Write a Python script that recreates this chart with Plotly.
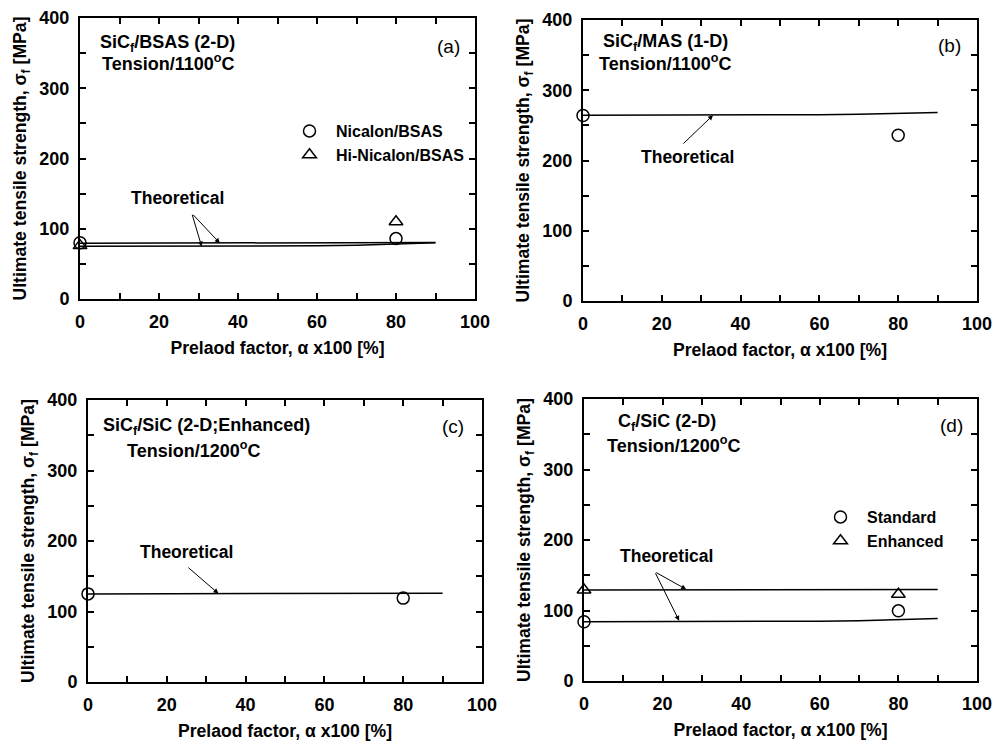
import plotly.graph_objects as go

# ---------------- data ----------------
theory_x = [0, 10, 20, 30, 40, 50, 60, 70, 80, 90]

# (a) SiCf/BSAS (2-D), 1100C
a_theory_upper = [79.5, 79.5, 79.5, 79.5, 79.5, 79.5, 79.6, 79.8, 80.0, 80.3]
a_theory_lower = [75.0, 75.0, 75.0, 75.0, 75.1, 75.3, 75.7, 76.5, 77.8, 80.0]
a_x = [0, 80]
a_nicalon = [80, 86]
a_hinicalon = [76, 110]

# (b) SiCf/MAS (1-D), 1100C
b_theory = [264.5, 264.5, 264.5, 264.5, 264.6, 264.8, 265.1, 265.7, 266.7, 268.3]
b_x = [0, 80]
b_data = [264, 236]

# (c) SiCf/SiC (2-D; Enhanced), 1200C
c_theory = [125.0, 125.0, 125.0, 125.0, 125.0, 125.0, 125.1, 125.3, 125.6, 126.0]
c_x = [0, 80]
c_data = [125, 119]

# (d) Cf/SiC (2-D), 1200C
d_theory_upper = [129.0, 129.0, 129.0, 129.0, 129.0, 129.1, 129.2, 129.4, 129.6, 129.8]
d_theory_lower = [84.0, 84.0, 84.0, 84.0, 84.1, 84.3, 84.8, 85.6, 86.8, 88.5]
d_x = [0, 80]
d_standard = [84, 99.5]
d_enhanced = [129, 123]

x_ticks = [0, 20, 40, 60, 80, 100]
y_ticks = [0, 100, 200, 300, 400]

# ---------------- figure ----------------
W, H = 994, 742
FONT = "Liberation Sans"

def px_dom(x0, x1):
    return [x0 / W, x1 / W]

def py_dom(top, bottom):
    return [1 - bottom / H, 1 - top / H]

domains = {
    1: (px_dom(80, 475), py_dom(18, 299)),
    2: (px_dom(583, 977), py_dom(20, 301)),
    3: (px_dom(88, 482), py_dom(400, 682)),
    4: (px_dom(584, 977), py_dom(399, 681)),
}

fig = go.Figure()

def line_trace(ax_i, y):
    xa = "x" if ax_i == 1 else f"x{ax_i}"
    ya = "y" if ax_i == 1 else f"y{ax_i}"
    return go.Scatter(x=theory_x, y=y, mode="lines", xaxis=xa, yaxis=ya,
                      line=dict(color="black", width=1.5), showlegend=False,
                      hoverinfo="skip")

def pt_trace(ax_i, x, y, symbol, name, legend=None):
    xa = "x" if ax_i == 1 else f"x{ax_i}"
    ya = "y" if ax_i == 1 else f"y{ax_i}"
    kw = {}
    if legend:
        kw["legend"] = legend
    return go.Scatter(x=x, y=y, mode="markers", xaxis=xa, yaxis=ya, name=name,
                      marker=dict(symbol=symbol, size=12, color="black",
                                  line=dict(color="black", width=1.5)),
                      cliponaxis=False, showlegend=legend is not None, **kw)

fig.add_trace(line_trace(1, a_theory_upper))
fig.add_trace(line_trace(1, a_theory_lower))
fig.add_trace(pt_trace(1, a_x, a_nicalon, "circle-open", "Nicalon/BSAS", "legend"))
fig.add_trace(pt_trace(1, a_x, a_hinicalon, "triangle-up-open", "Hi-Nicalon/BSAS", "legend"))

fig.add_trace(line_trace(2, b_theory))
fig.add_trace(pt_trace(2, b_x, b_data, "circle-open", "SiCf/MAS"))

fig.add_trace(line_trace(3, c_theory))
fig.add_trace(pt_trace(3, c_x, c_data, "circle-open", "SiCf/SiC"))

fig.add_trace(line_trace(4, d_theory_upper))
fig.add_trace(line_trace(4, d_theory_lower))
fig.add_trace(pt_trace(4, d_x, d_standard, "circle-open", "Standard", "legend2"))
fig.add_trace(pt_trace(4, d_x, d_enhanced, "triangle-up-open", "Enhanced", "legend2"))

tickfont = dict(family=FONT, size=18, color="black", weight="bold")
titlefont = dict(family=FONT, size=17.6, color="black", weight="bold")

layout = dict(
    width=W, height=H, margin=dict(l=0, r=0, t=0, b=0),
    paper_bgcolor="white", plot_bgcolor="white",
    font=dict(family=FONT, size=16, color="black"),
    showlegend=True,
)

for i in range(1, 5):
    xd, yd = domains[i]
    xk = "xaxis" if i == 1 else f"xaxis{i}"
    yk = "yaxis" if i == 1 else f"yaxis{i}"
    anchor_x = "y" if i == 1 else f"y{i}"
    anchor_y = "x" if i == 1 else f"x{i}"
    layout[xk] = dict(
        domain=xd, anchor=anchor_x, range=[0, 100], tickvals=x_ticks,
        ticks="inside", ticklen=6, tickwidth=1.5, tickcolor="black",
        minor=dict(dtick=10, ticks="inside", ticklen=6, tickwidth=1.5, tickcolor="black"),
        showline=True, linecolor="black", linewidth=2, mirror="ticks",
        showgrid=False, zeroline=False, automargin=False,
        tickfont=tickfont, ticklabelstandoff=5,
        title=dict(text="Prelaod factor, α x100 [%]", font=titlefont, standoff=11),
    )
    layout[yk] = dict(
        domain=yd, anchor=anchor_y, range=[0, 400], tickvals=y_ticks,
        ticks="inside", ticklen=6, tickwidth=1.5, tickcolor="black",
        minor=dict(dtick=50, ticks="inside", ticklen=6, tickwidth=1.5, tickcolor="black"),
        showline=True, linecolor="black", linewidth=2, mirror="ticks",
        showgrid=False, zeroline=False, automargin=False,
        tickfont=tickfont, ticklabelstandoff=5,
        title=dict(text="Ultimate tensile strength, σ<sub>f</sub> [MPa]", font=titlefont, standoff=8),
    )

legfont = dict(family=FONT, size=16, color="black", weight="bold")
layout["legend"] = dict(x=283 / W, y=1 - 114 / H, xanchor="left", yanchor="top",
                        bgcolor="rgba(0,0,0,0)", font=legfont, tracegroupgap=0,
                        itemwidth=43)
layout["legend2"] = dict(x=814 / W, y=1 - 500 / H, xanchor="left", yanchor="top",
                         bgcolor="rgba(0,0,0,0)", font=legfont, tracegroupgap=0,
                         itemwidth=43)

fig.update_layout(**layout)

bold = dict(family=FONT, size=18, color="black", weight="bold")
theo = dict(family=FONT, size=17.5, color="black", weight="bold")
reg = dict(family=FONT, size=19, color="black")

def ref(i):
    return ("x" if i == 1 else f"x{i}"), ("y" if i == 1 else f"y{i}")

def text_ann(i, x, y, text, font, xanchor="center"):
    xr, yr = ref(i)
    fig.add_annotation(x=x, y=y, xref=xr, yref=yr, text=text, showarrow=False,
                       font=font, xanchor=xanchor, yanchor="middle")

def arrow_ann(i, x, y, ax, ay):
    xr, yr = ref(i)
    fig.add_annotation(x=x, y=y, xref=xr, yref=yr, ax=ax, ay=ay, axref=xr, ayref=yr,
                       text="", showarrow=True, arrowhead=2, arrowsize=1,
                       arrowwidth=1, arrowcolor="black", standoff=0, startstandoff=0)

# (a)
text_ann(1, 4.6, 364, "SiC<sub>f</sub>/BSAS (2-D)", bold, "left")
text_ann(1, 5.1, 336, "Tension/1100<sup>o</sup>C", bold, "left")
text_ann(1, 93.2, 360, "(a)", reg)
text_ann(1, 24.8, 144, "Theoretical", theo)
arrow_ann(1, 30.8, 74.8, 28.3, 122)
arrow_ann(1, 35.4, 79.5, 28.3, 122)

# (b)
text_ann(2, 21.0, 368, "SiC<sub>f</sub>/MAS (1-D)", bold)
text_ann(2, 20.7, 339, "Tension/1100<sup>o</sup>C", bold)
text_ann(2, 93.1, 364, "(b)", reg)
text_ann(2, 26.4, 205, "Theoretical", theo)
arrow_ann(2, 33.0, 264.5, 25.1, 222)

# (c)
text_ann(3, 30.2, 362, "SiC<sub>f</sub>/SiC (2-D;Enhanced)", bold)
text_ann(3, 26.9, 330, "Tension/1200<sup>o</sup>C", bold)
text_ann(3, 92.6, 362, "(c)", reg)
text_ann(3, 25.1, 185, "Theoretical", theo)
arrow_ann(3, 33.1, 125.5, 25.1, 164)

# (d)
text_ann(4, 21.0, 366, "C<sub>f</sub>/SiC (2-D)", bold)
text_ann(4, 22.8, 336, "Tension/1200<sup>o</sup>C", bold)
text_ann(4, 93.4, 363, "(d)", reg)
text_ann(4, 21.1, 177, "Theoretical", theo)
arrow_ann(4, 26.0, 130.0, 18.0, 155)
arrow_ann(4, 24.2, 85.5, 18.0, 155)

fig.write_html("out.html", config={"displayModeBar": False},
               post_script="document.body.style.margin='0';")
